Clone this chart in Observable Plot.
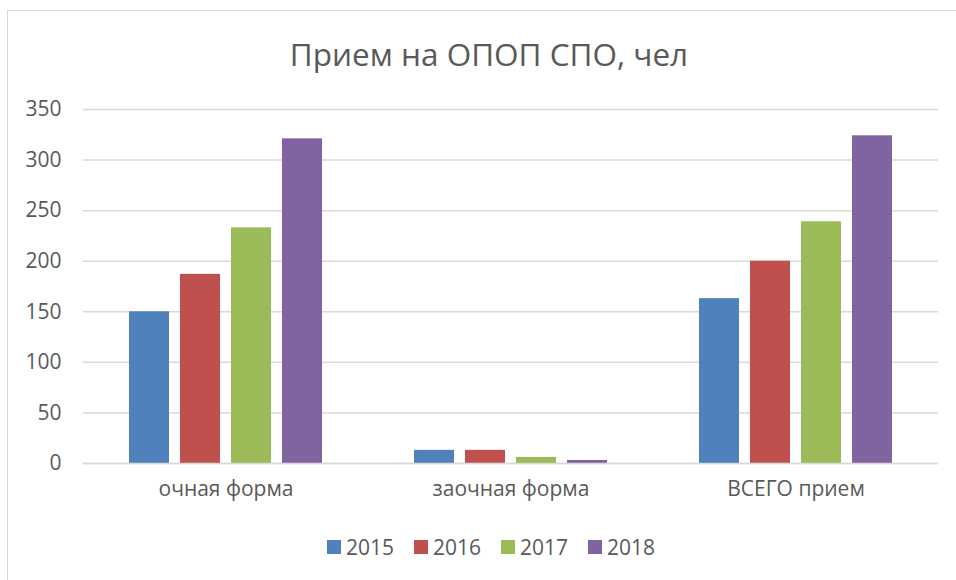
<!DOCTYPE html>
<html>
<head>
<meta charset="utf-8">
<script src="https://cdn.jsdelivr.net/npm/d3@7"></script>
<script src="https://cdn.jsdelivr.net/npm/@observablehq/plot@0.6"></script>
<style>
  html, body { margin: 0; padding: 0; background: #fff; }
  body { width: 956px; height: 580px; position: relative; overflow: hidden; font-family: "Open Sans", sans-serif; color: #595959; }
  #frame { position: absolute; left: 7px; top: 10px; width: 1000px; height: 700px; border: 1.5px solid #d9d9d9; box-sizing: border-box; }
  #title { position: absolute; left: 11px; width: 956px; top: 34px; text-align: center; font-size: 31.5px; line-height: 40px; color: #595959; }
  #chart { position: absolute; left: 0; top: 80px; }
  #legend { position: absolute; left: 13px; width: 956px; top: 533px; display: flex; justify-content: center; font-size: 21px; line-height: 28px; }
  .item { display: flex; align-items: center; margin: 0 10px; }
  .sw { width: 14px; height: 14px; margin-right: 5px; }
</style>
</head>
<body>
<div id="frame"></div>
<div id="title">Прием на ОПОП СПО, чел</div>
<div id="chart"></div>
<div id="legend"></div>
<script>
const categories = ["очная форма", "заочная форма", "ВСЕГО прием"];
const years = ["2015", "2016", "2017", "2018"];
const colors = ["#4f81bd", "#c0504d", "#9bbb59", "#8064a2"];
const values2015 = [150, 13, 163];
const values2016 = [187, 13, 200];
const values2017 = [233, 6, 239];
const values2018 = [321, 3, 324];
const yTicks = [0, 50, 100, 150, 200, 250, 300, 350];

const series = [values2015, values2016, values2017, values2018];
const data = [];
categories.forEach((c, i) => {
  years.forEach((y, j) => data.push({category: c, year: y, value: series[j][i]}));
});

const chart = Plot.plot({
  width: 956,
  height: 424,
  marginLeft: 83,
  marginRight: 18,
  marginTop: 29,
  marginBottom: 41,
  style: {fontFamily: "'Open Sans', sans-serif", fontSize: "21px", color: "#595959", background: "transparent"},
  fx: {domain: categories, padding: 0, label: null, tickSize: 0, tickPadding: 18},
  x: {domain: years, paddingInner: 0.214, paddingOuter: 0.858, axis: null},
  y: {domain: [0, 350], ticks: yTicks, label: null, tickSize: 0, tickPadding: 22},
  color: {domain: years, range: colors},
  marks: [
    Plot.gridY(yTicks, {stroke: "#d9d9d9", strokeOpacity: 1, strokeWidth: 1.5}),
    Plot.barY(data, {fx: "category", x: "year", y: "value", fill: "year"}),
    Plot.ruleY([0], {stroke: "#d9d9d9", strokeWidth: 1.5})
  ]
});
document.getElementById("chart").appendChild(chart);

const legend = document.getElementById("legend");
years.forEach((y, j) => {
  const item = document.createElement("div");
  item.className = "item";
  const sw = document.createElement("div");
  sw.className = "sw";
  sw.style.background = colors[j];
  const t = document.createElement("span");
  t.textContent = y;
  item.appendChild(sw);
  item.appendChild(t);
  legend.appendChild(item);
});
</script>
</body>
</html>
